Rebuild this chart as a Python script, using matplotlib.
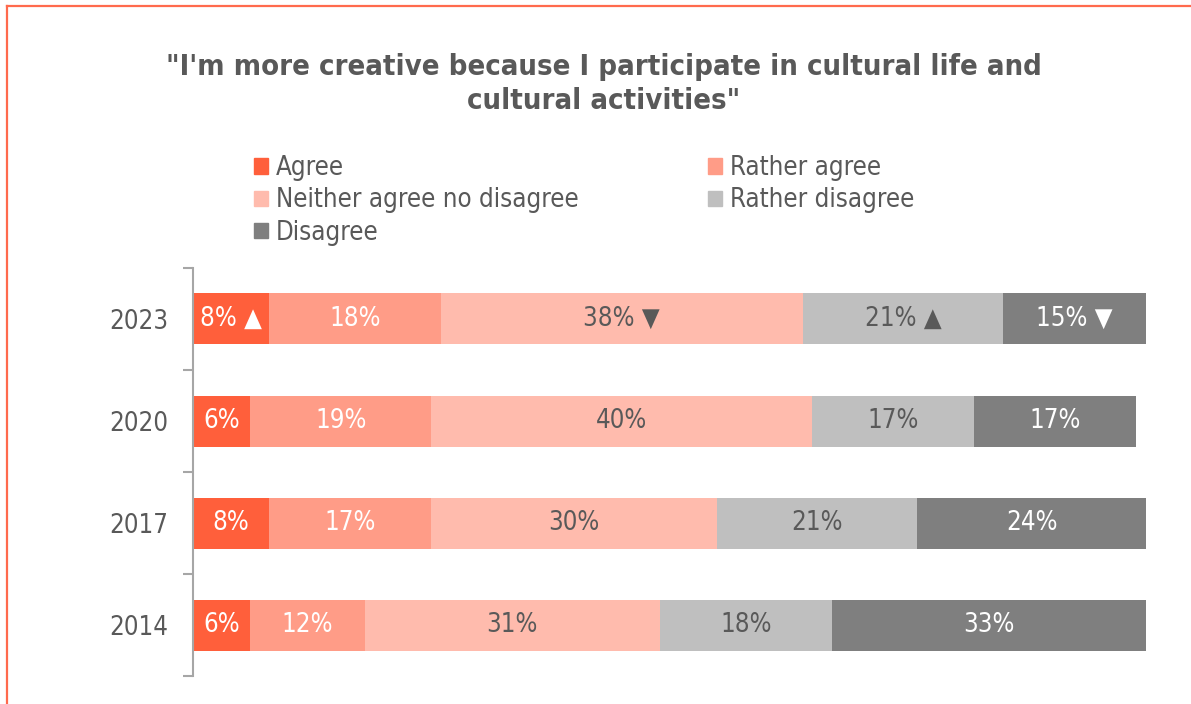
import matplotlib.pyplot as plt
from matplotlib.patches import Patch
from matplotlib.lines import Line2D

plt.rcParams['font.family'] = ['DejaVu Sans']
plt.rcParams['font.stretch'] = 'condensed'

years = ["2014", "2017", "2020", "2023"]
answers = ["Agree", "Rather agree", "Neither agree no disagree", "Rather disagree", "Disagree"]
agree = [6, 8, 6, 8]
rather_agree = [12, 17, 19, 18]
neither = [31, 30, 40, 38]
rather_disagree = [18, 21, 17, 21]
disagree = [33, 24, 17, 15]
# change vs previous wave, only marked for 2023
trend_2023 = ["▲", "", "▼", "▲", "▼"]

colors = ["#FF5F3B", "#FF9C87", "#FFBBAD", "#BFBFBF", "#7F7F7F"]
text_colors = ["white", "white", "#595959", "#595959", "white"]
grey = "#595959"
fs = 18.5

series = [agree, rather_agree, neither, rather_disagree, disagree]

fig = plt.figure(figsize=(11.91, 7.04), dpi=100)
ax = fig.add_axes([193 / 1191, 28 / 704, 953 / 1191, 408 / 704])

ypos = list(range(len(years)))
left = [0] * len(years)
for i, vals in enumerate(series):
    ax.barh(ypos, vals, left=left, height=0.5, color=colors[i], label=answers[i])
    for j, v in enumerate(vals):
        txt = f"{v}%"
        if years[j] == "2023" and trend_2023[i]:
            txt += " " + trend_2023[i]
        ax.text(left[j] + v / 2, ypos[j], txt, ha="center", va="center",
                color=text_colors[i], fontsize=fs)
    left = [a + b for a, b in zip(left, vals)]

ax.set_xlim(0, 100)
ax.set_ylim(-0.5, len(years) - 0.5)
ax.set_xticks([])
ax.set_yticks(ypos)
ax.set_yticklabels(years, fontsize=fs, color=grey)
ax.set_yticks([y - 0.5 for y in range(len(years) + 1)], minor=True)
ax.tick_params(axis="y", which="major", length=0, pad=18)
ax.tick_params(axis="y", which="minor", length=7.5, width=1.5, color="#A6A6A6")
for s in ["top", "right", "bottom"]:
    ax.spines[s].set_visible(False)
ax.spines["left"].set_color("#A6A6A6")
ax.spines["left"].set_linewidth(1.5)

fig.text(0.507, 1 - 84 / 704,
         "\"I'm more creative because I participate in cultural life and\ncultural activities\"",
         ha="center", va="center", fontsize=21, fontweight="bold", color=grey,
         linespacing=1.3)

# legend: column-first order so rows read Agree / Rather agree, ...
order = [0, 2, 4, 1, 3]
handles = [Patch(color=colors[k]) for k in order]
labels = [answers[k] for k in order]
leg = ax.legend(handles, labels, ncol=2, loc="upper left",
                bbox_to_anchor=(254 / 1191, 1 - 155 / 704), bbox_transform=fig.transFigure,
                frameon=False, fontsize=fs, handlelength=0.55, handleheight=0.55,
                handletextpad=0.3, columnspacing=5.05, labelspacing=0.25, borderpad=0,
                borderaxespad=0)
for t in leg.get_texts():
    t.set_color(grey)

# orange frame along top and left edge
fig.add_artist(Line2D([7 / 1191, 7 / 1191], [0, 1 - 6 / 704], color="#FF6A4D", lw=1.6))
fig.add_artist(Line2D([7 / 1191, 1], [1 - 6 / 704, 1 - 6 / 704], color="#FF6A4D", lw=1.6))

fig.savefig("out.png", dpi=100)
